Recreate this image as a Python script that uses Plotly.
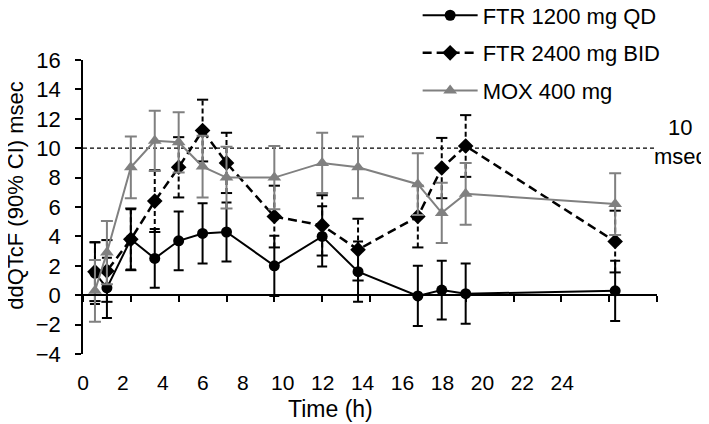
import plotly.graph_objects as go

# ---- data ----
time_h = [0.5, 1, 2, 3, 4, 5, 6, 8, 10, 11.5, 14, 15, 16, 22.25]

ftr1200_qd = [1.5, 0.5, 3.8, 2.5, 3.7, 4.2, 4.3, 2.0, 4.0, 1.6, -0.05, 0.35, 0.1, 0.3]
ftr1200_ci = [2.1, 2.05, 2.05, 2.0, 2.0, 2.05, 2.0, 2.05, 2.05, 2.05, 2.05, 2.0, 2.05, 2.05]

ftr2400_bid = [1.6, 1.65, 3.8, 6.4, 8.7, 11.2, 9.0, 5.35, 4.75, 3.1, 5.35, 8.65, 10.15, 3.65]
ftr2400_ci = [2.0, 2.1, 2.1, 2.1, 2.05, 2.1, 2.05, 2.1, 2.05, 2.1, 2.1, 2.05, 2.1, 2.1]

mox400 = [0.3, 2.9, 8.7, 10.5, 10.4, 8.75, 8.0, 8.0, 9.0, 8.7, 7.55, 5.6, 6.9, 6.2]
mox400_ci = [2.1, 2.15, 2.1, 2.05, 2.05, 2.1, 2.1, 2.15, 2.05, 2.1, 2.1, 2.05, 2.1, 2.1]

series_names = ["FTR 1200 mg QD", "FTR 2400 mg BID", "MOX 400 mg"]
threshold = 10
x_ticks = list(range(0, 25, 2))
y_ticks = list(range(-4, 17, 2))

FONT = "Liberation Sans, Arial, sans-serif"
GREY = "rgb(128,128,128)"
FS = 22

fig = go.Figure()

# FTR 1200 mg QD
fig.add_trace(go.Scatter(
    x=time_h, y=ftr1200_qd, name=series_names[0], mode="lines+markers",
    line=dict(color="black", width=2),
    marker=dict(symbol="circle", size=11, color="black"),
    error_y=dict(type="data", array=ftr1200_ci, color="black", thickness=2, width=5),
    legendrank=1, legendgroup="g1",
))

# FTR 2400 mg BID : dashed error bars built from the data
ex, ey, cx, cy = [], [], [], []
for t, v, e in zip(time_h, ftr2400_bid, ftr2400_ci):
    ex += [t, t, None]
    ey += [v - e, v + e, None]
    cx += [t, t]
    cy += [v - e, v + e]
fig.add_trace(go.Scatter(
    x=ex, y=ey, mode="lines", showlegend=False, hoverinfo="skip",
    line=dict(color="black", width=2, dash="5px,3px"), legendgroup="g2",
))
fig.add_trace(go.Scatter(
    x=cx, y=cy, mode="markers", showlegend=False, hoverinfo="skip",
    marker=dict(symbol="line-ew", size=8, line=dict(color="black", width=2)),
    legendgroup="g2",
))
fig.add_trace(go.Scatter(
    x=time_h, y=ftr2400_bid, name=series_names[1], mode="lines+markers",
    line=dict(color="black", width=2.5, dash="9px,5px"),
    marker=dict(symbol="diamond", size=12, color="black"),
    legendrank=2, legendgroup="g2",
))

# MOX 400 mg
fig.add_trace(go.Scatter(
    x=time_h, y=mox400, name=series_names[2], mode="lines+markers",
    line=dict(color=GREY, width=2),
    marker=dict(symbol="triangle-up", size=12, color=GREY),
    error_y=dict(type="data", array=mox400_ci, color=GREY, thickness=2, width=6),
    legendrank=3, legendgroup="g3",
))

# invisible carrier for the (offset) tick-label axis
fig.add_trace(go.Scatter(
    x=x_ticks, y=[y_ticks[0]] * len(x_ticks), xaxis="x2", mode="markers",
    marker=dict(opacity=0), showlegend=False, hoverinfo="skip",
))

# reference line at 10 msec
fig.add_shape(type="line", xref="x", yref="y", x0=x_ticks[0], x1=x_ticks[-1],
              y0=threshold, y1=threshold,
              line=dict(color="black", width=1.2, dash="4px,3px"), layer="below")

fig.add_annotation(text=f"{threshold}<br>msec", xref="paper", yref="y",
                   x=1.0906, y=threshold, yshift=6, showarrow=False,
                   xanchor="right", yanchor="middle",
                   font=dict(family=FONT, size=FS, color="black"), align="center")

fig.add_annotation(text="ddQTcF (90% CI) msec", xref="paper", yref="paper",
                   x=-0.117, y=0.541, textangle=-90, showarrow=False,
                   xanchor="center", yanchor="middle",
                   font=dict(family=FONT, size=FS, color="black"))
fig.add_annotation(text="Time (h)", xref="paper", yref="paper",
                   x=0.432, y=-0.187, showarrow=False,
                   xanchor="center", yanchor="middle",
                   font=dict(family=FONT, size=23, color="black"))

zero_pos = (0 - y_ticks[0]) / (y_ticks[-1] - y_ticks[0])

fig.update_layout(
    width=701, height=416,
    margin=dict(l=75, r=52, t=52, b=70, autoexpand=False),
    paper_bgcolor="white", plot_bgcolor="rgba(0,0,0,0)",
    font=dict(family=FONT, size=FS, color="black"),
    showlegend=True,
    legend=dict(x=0.583, y=1.223, xanchor="left", yanchor="top",
                bgcolor="rgba(0,0,0,0)", font=dict(size=22), itemwidth=55,
                traceorder="grouped", tracegroupgap=6),
    xaxis=dict(range=[x_ticks[0], x_ticks[-1]], tickvals=x_ticks,
               domain=[0, 1], anchor="free", position=zero_pos,
               showline=True, linecolor="black", linewidth=1.5,
               ticks="outside", ticklen=6, tickwidth=1.5, tickcolor="black",
               showgrid=False, zeroline=False, showticklabels=False,
               automargin=False),
    xaxis2=dict(range=[x_ticks[0], x_ticks[-1]], tickvals=x_ticks,
                domain=[0, 0.835], anchor="y", side="bottom",
                showline=False, ticks="", showgrid=False, zeroline=False,
                ticklabelstandoff=14, tickfont=dict(size=21), automargin=False),
    yaxis=dict(range=[y_ticks[0], y_ticks[-1]], tickvals=y_ticks,
               domain=[0, 1], anchor="x",
               showline=True, linecolor="black", linewidth=1.5,
               ticks="outside", ticklen=6, tickwidth=1.5, tickcolor="black",
               showgrid=False, zeroline=False, ticklabelstandoff=10,
               tickfont=dict(size=FS), automargin=False),
)

fig.write_html("out.html")
